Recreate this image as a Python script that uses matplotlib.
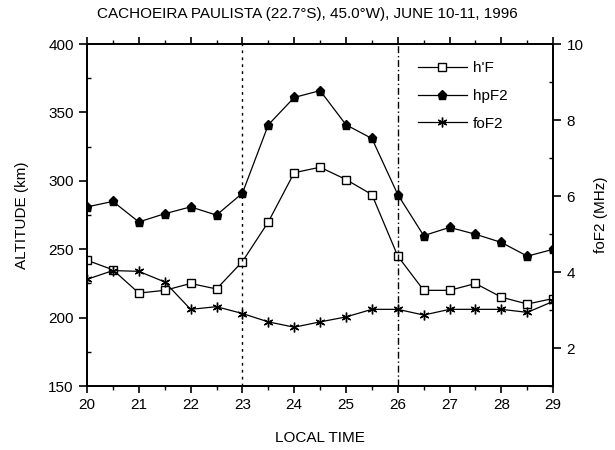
import matplotlib
matplotlib.use("Agg")
import matplotlib.pyplot as plt
from matplotlib.ticker import MultipleLocator

plt.rcParams['font.family'] = ['Liberation Sans', 'DejaVu Sans']

local_time = [20, 20.5, 21, 21.5, 22, 22.5, 23, 23.5, 24, 24.5, 25, 25.5,
              26, 26.5, 27, 27.5, 28, 28.5, 29]
h_prime_F = [242, 235, 218, 220, 225, 221, 241, 270, 306, 310, 301, 290,
             245, 220, 220, 225, 215, 210, 214]
hpF2 = [281, 285, 270, 276, 281, 275, 291, 341, 361, 366, 341, 331,
        290, 260, 266, 261, 255, 245, 250]
foF2 = [3.81, 4.04, 4.02, 3.74, 3.02, 3.09, 2.91, 2.69, 2.55, 2.69, 2.82, 3.02,
        3.02, 2.87, 3.02, 3.02, 3.02, 2.94, 3.23]

title = "CACHOEIRA PAULISTA (22.7\u00b0S), 45.0\u00b0W), JUNE 10-11, 1996"

fig = plt.figure(figsize=(6.15, 4.5), dpi=100)
ax = fig.add_axes([0.1415, 0.142, 0.758, 0.76])
ax2 = ax.twinx()

l1, = ax.plot(local_time, h_prime_F, '-', color='black', lw=0.9, marker='s',
              mfc='white', mec='black', ms=5.5, mew=1.0, label="h'F")
l2, = ax.plot(local_time, hpF2, '-', color='black', lw=0.9, marker='p',
              mfc='black', mec='black', ms=6.5, label='hpF2')
l3, = ax2.plot(local_time, foF2, '-', color='black', lw=0.9, marker=(6, 2, 0),
               ms=7, mew=1.0, label='foF2')

ax.axvline(23, color='black', ls=(0, (2, 3)), lw=1.0)
ax.axvline(26, color='black', ls=(0, (5, 2, 1, 2)), lw=1.0)

ax.set_xlim(20, 29)
ax.set_ylim(150, 400)
ax2.set_ylim(1, 10)
ax.xaxis.set_major_locator(MultipleLocator(1))
ax.xaxis.set_minor_locator(MultipleLocator(0.5))
ax.yaxis.set_major_locator(MultipleLocator(50))
ax.yaxis.set_minor_locator(MultipleLocator(25))
ax2.yaxis.set_major_locator(MultipleLocator(2))
ax2.yaxis.set_minor_locator(MultipleLocator(1))

for a in (ax, ax2):
    for s in a.spines.values():
        s.set_linewidth(1.3)
ax.tick_params(axis='x', which='both', direction='out', top=True, labelsize=11)
ax.tick_params(axis='x', which='major', length=5, width=1.2)
ax.tick_params(axis='x', which='minor', length=3, width=1.0)
ax.tick_params(axis='y', which='major', direction='out', length=6, width=1.2, labelsize=11)
ax.tick_params(axis='y', which='minor', direction='in', length=3, width=1.0)
ax2.tick_params(axis='y', which='major', direction='out', length=6, width=1.2, labelsize=11)
ax2.tick_params(axis='y', which='minor', direction='in', length=3, width=1.0)

ax.set_xlabel('LOCAL TIME', fontsize=11, labelpad=14)
ax.set_ylabel('ALTITUDE (km)', fontsize=11, labelpad=14)
ax2.set_ylabel('foF2 (MHz)', fontsize=11, labelpad=8)
fig.text(0.5, 0.968, title, ha='center', va='center', fontsize=11)

ax.legend(handles=[l1, l2, l3], loc='upper left', bbox_to_anchor=(0.68, 0.99),
          frameon=False, fontsize=11, handlelength=3.2, labelspacing=0.9,
          handletextpad=0.4)

fig.savefig('out.png', dpi=100)
